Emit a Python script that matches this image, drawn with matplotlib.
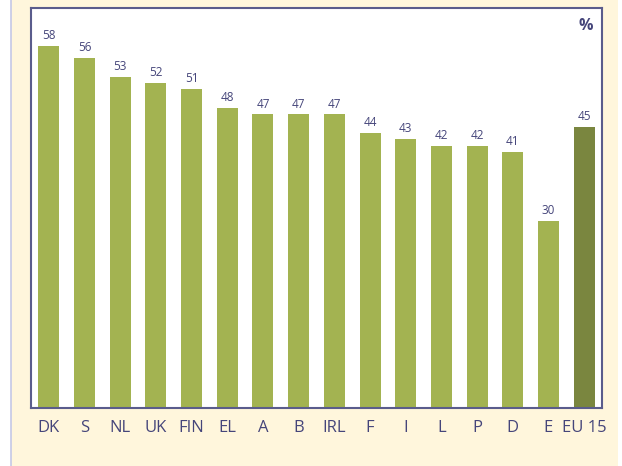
import numpy as np
import matplotlib.pyplot as plt
from matplotlib.patches import Rectangle
from matplotlib.lines import Line2D

countries = ['DK', 'S', 'NL', 'UK', 'FIN', 'EL', 'A', 'B', 'IRL', 'F', 'I', 'L', 'P', 'D', 'E', 'EU 15']
values = [58, 56, 53, 52, 51, 48, 47, 47, 47, 44, 43, 42, 42, 41, 30, 45]

CREAM = '#FFF6DC'
GREEN = '#A3B351'
DARK_GREEN = '#7A863F'
TEXT = '#45457A'
plt.rcParams['font.family'] = ['Open Sans', 'DejaVu Sans']

fig = plt.figure(figsize=(6.22, 4.66), dpi=100)
fig.patch.set_facecolor('white')
# cream panel and thin blue line on the left
fig.patches.append(Rectangle((11 / 622, 0), (618 - 11) / 622, 1, transform=fig.transFigure,
                             facecolor=CREAM, edgecolor='none', zorder=-10))
fig.lines.append(Line2D([10.5 / 622, 10.5 / 622], [0, 1], transform=fig.transFigure,
                        color='#C5C8E6', lw=1.2, zorder=-9))

ax = fig.add_axes([31 / 622, 58 / 466, 571 / 622, 400 / 466])
ax.set_facecolor('white')

x = np.arange(len(countries))
colors = [GREEN] * (len(countries) - 1) + [DARK_GREEN]
ax.bar(x, values, width=0.59, color=colors, zorder=2)

for xi, v in zip(x, values):
    ax.text(xi, v + 0.6, str(v), ha='center', va='bottom', fontsize=8.5, color=TEXT)

ax.set_xlim(-0.5, len(countries) - 0.5)
ax.set_ylim(0, 64)
ax.set_yticks([])
ax.set_xticks(x)
ax.set_xticklabels(countries, fontsize=12, color=TEXT)
ax.tick_params(axis='x', length=0, pad=9)

for s in ax.spines.values():
    s.set_color('#5A5C8C')
    s.set_linewidth(1.5)

ax.text(0.985, 0.975, '%', transform=ax.transAxes, ha='right', va='top',
        fontsize=11.5, fontweight='bold', color=TEXT)

fig.savefig('out.png', dpi=100, facecolor=fig.get_facecolor())
